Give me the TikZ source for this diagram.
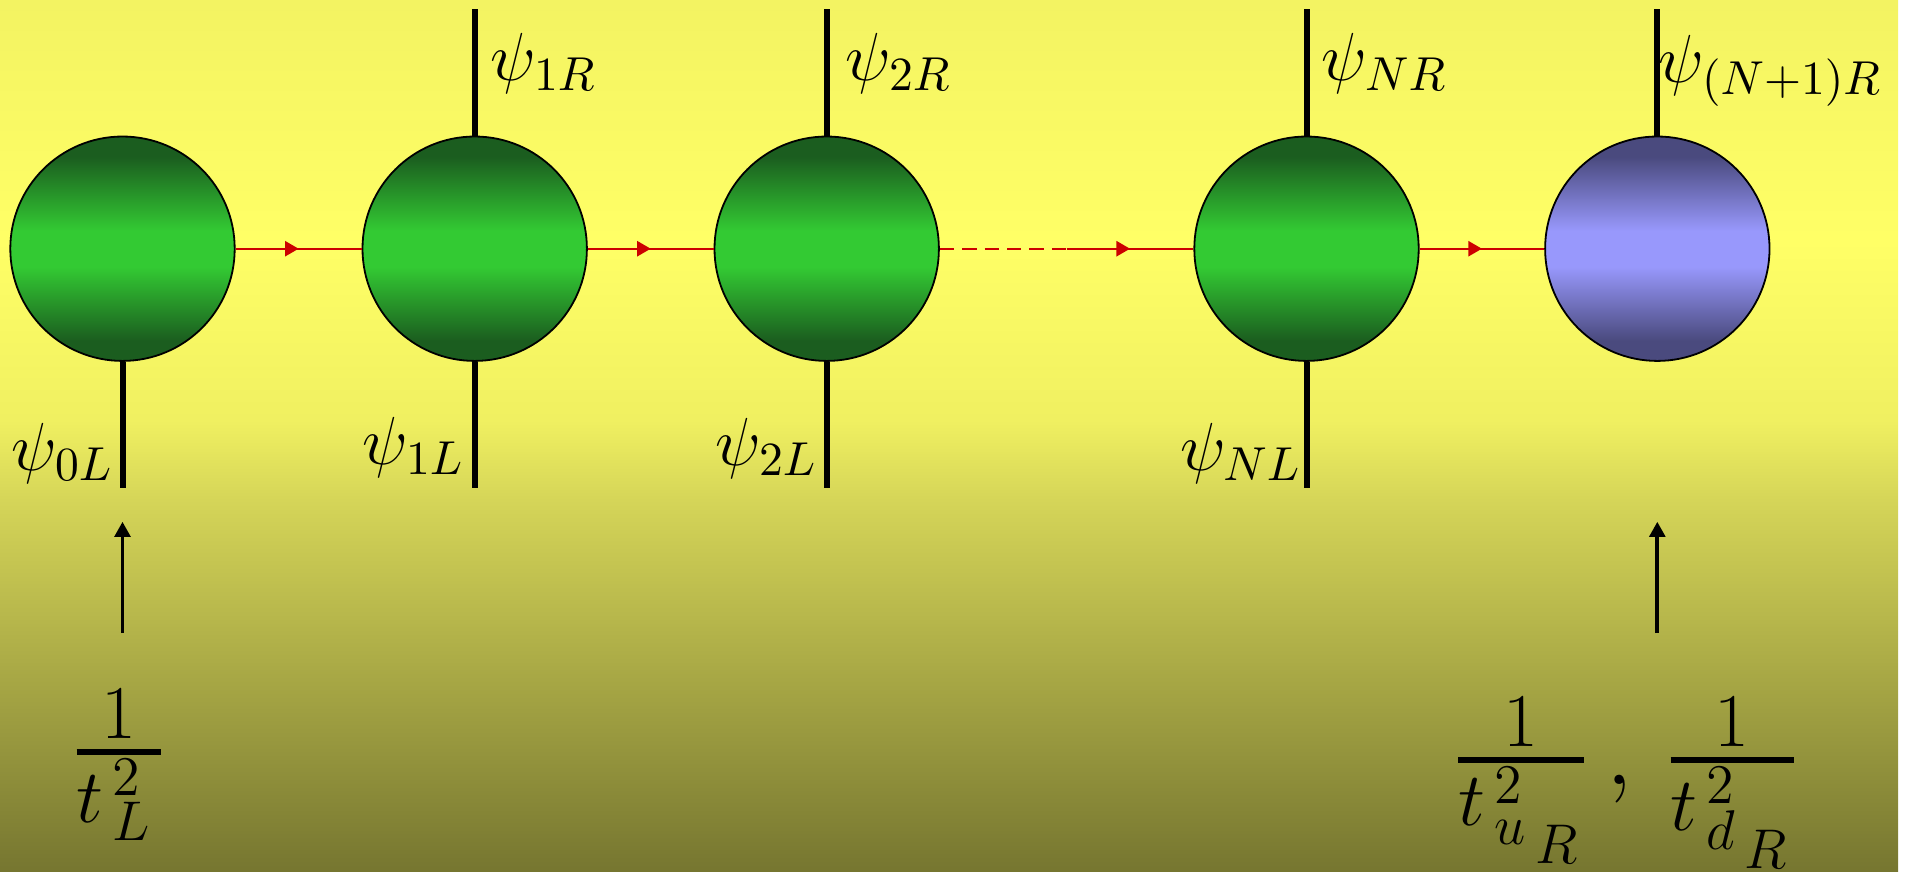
\RequirePackage{fix-cm}
\documentclass[tikz,border=0pt]{standalone}
\usetikzlibrary{arrows.meta,calc}
\DeclareMathSizes{24}{24}{19}{14}
\definecolor{gdark}{RGB}{27,93,31}
\definecolor{glight}{RGB}{51,202,51}
\definecolor{bdark}{RGB}{74,74,126}
\definecolor{blight}{RGB}{152,152,252}
\definecolor{linkred}{RGB}{204,0,0}
\definecolor{bgA}{RGB}{243,243,98}
\definecolor{bgB}{RGB}{255,255,102}
\definecolor{bgC}{RGB}{240,240,97}
\definecolor{bgD}{RGB}{213,213,88}
\definecolor{bgE}{RGB}{118,118,48}
\pgfdeclareverticalshading{bgshade}{100bp}{color(0bp)=(bgE); color(25bp)=(bgE); color(46.3bp)=(bgD); color(50.9bp)=(bgC); color(61.2bp)=(bgB); color(75bp)=(bgA); color(100bp)=(bgA)}
\pgfdeclareverticalshading{gshade}{100bp}{color(0bp)=(gdark); color(29.5bp)=(gdark); color(46bp)=(glight); color(54bp)=(glight); color(70.5bp)=(gdark); color(100bp)=(gdark)}
\pgfdeclareverticalshading{bshade}{100bp}{color(0bp)=(bdark); color(29.5bp)=(bdark); color(46bp)=(blight); color(54bp)=(blight); color(70.5bp)=(bdark); color(100bp)=(bdark)}
\begin{document}
\begin{tikzpicture}[x=0.25pt,y=-0.25pt,
  ball/.style={circle,draw=black,line width=0.45pt,minimum size=56.1pt,inner sep=0pt},
  gball/.style={ball,shade,shading=gshade},
  bball/.style={ball,shade,shading=bshade},
  stem/.style={line width=1.5pt,black},
  redlink/.style={linkred,line width=0.5pt},
  linkarrow/.style={redlink,-{Triangle[length=3.4pt,width=3.8pt]}},
  uparrow/.style={black,line width=0.95pt,-{Triangle[length=3.8pt,width=3.9pt]}},
  lab/.style={inner sep=0pt,font=\fontsize{17}{20}\selectfont},
  fracl/.style={inner sep=0pt,anchor=base,font=\fontsize{24}{28}\selectfont}]
\useasboundingbox (0,0) rectangle (1923,871);
\shade[shading=bgshade] (0,0) rectangle (1898,871);
% balls
\node[gball] (c0) at (122.5,248.7) {};
\node[gball] (c1) at (474.7,248.7) {};
\node[gball] (c2) at (826.7,248.7) {};
\node[gball] (cN) at (1306.5,248.7) {};
\node[bball] (cM) at (1657.3,248.7) {};
% red links
\coordinate (m01) at ($(c0.east)!0.5!(c1.west)$);
\coordinate (m12) at ($(c1.east)!0.5!(c2.west)$);
\coordinate (m2N) at ($(c2.east)!0.5!(cN.west)$);
\coordinate (mNx) at ($(m2N)!0.5!(cN.west)$);
\coordinate (mNM) at ($(cN.east)!0.5!(cM.west)$);
\draw[redlink] (c0.east) -- (c1.west);
\draw[linkarrow] (c0.east) -- (m01);
\draw[redlink] (c1.east) -- (c2.west);
\draw[linkarrow] (c1.east) -- (m12);
\draw[redlink,dash pattern=on 3.6pt off 2pt] (c2.east) -- (m2N);
\draw[redlink] (m2N) -- (cN.west);
\draw[linkarrow] (m2N) -- (mNx);
\draw[redlink] (cN.east) -- (cM.west);
\draw[linkarrow] (cN.east) -- (mNM);
% stems
\coordinate (t1) at (474.7,9);
\coordinate (t2) at (826.7,9);
\coordinate (tN) at (1306.5,9);
\coordinate (tM) at (1657.3,9);
\coordinate (b0) at (122.5,488);
\coordinate (b1) at (474.7,488);
\coordinate (b2) at (826.7,488);
\coordinate (bN) at (1306.5,488);
\draw[stem] (t1) -- (c1.north);
\draw[stem] (t2) -- (c2.north);
\draw[stem] (tN) -- (cN.north);
\draw[stem] (tM) -- (cM.north);
\draw[stem] (c0.south) -- (b0);
\draw[stem] (c1.south) -- (b1);
\draw[stem] (c2.south) -- (b2);
\draw[stem] (cN.south) -- (bN);
% labels
\node[lab,anchor=base east] (l0) at (114,470) {$\psi_{0L}$};
\node[lab,anchor=base east] (l1) at (465,464) {$\psi_{1L}$};
\node[lab,anchor=base east] (l2) at (818,465) {$\psi_{2L}$};
\node[lab,anchor=base east] (lN) at (1302,470) {$\psi_{NL}$};
\node[lab,anchor=base west] (r1) at (490,80) {$\psi_{1R}$};
\node[lab,anchor=base west] (r2) at (845,80) {$\psi_{2R}$};
\node[lab,anchor=base west] (rN) at (1321,80) {$\psi_{NR}$};
\node[lab,anchor=base west] (rM) at (1658,82) {$\psi_{(N+1)R}$};
% bottom arrows
\coordinate (a0) at (122.5,633);
\coordinate (a0t) at (122.5,521.7);
\coordinate (aM) at (1657.3,633);
\coordinate (aMt) at (1657.3,521.7);
\draw[uparrow] (a0) -- (a0t);
\draw[uparrow] (aM) -- (aMt);
% fractions
\node[fracl] (fL) at (119,776) {${1\above1.3pt t^{\,2}_{\,L}\hspace{2.3pt}}$};
\node[fracl] (fR1) at (1521,784) {${1\above1.3pt t^{\,2}_{\,u_{\,R}}\hspace{0.6pt}}$};
\node[fracl] (fC) at (1620,784) {$,$};
\node[fracl] (fR2) at (1732,784) {${1\above1.3pt t^{\,2}_{\,d_{\,R}}\hspace{0.7pt}}$};
\end{tikzpicture}
\end{document}
